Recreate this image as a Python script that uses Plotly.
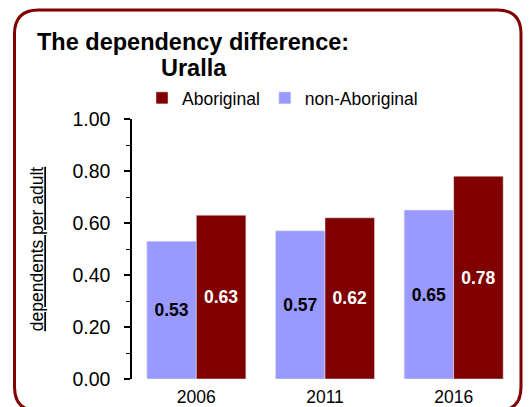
import plotly.graph_objects as go

years = ["2006", "2011", "2016"]
aboriginal = [0.63, 0.62, 0.78]
non_aboriginal = [0.53, 0.57, 0.65]
y_ticks = [0.0, 0.2, 0.4, 0.6, 0.8, 1.0]

FONT = "Liberation Sans, Arial, sans-serif"
RED = "#800000"
PURPLE = "#9999FF"

W, H = 529, 407
# plot area in pixels
L, R, T, B = 132, 518, 119, 379


def px(x):
    # pixel -> paper x
    return (x - L) / (R - L)


def py(y):
    # pixel -> paper y
    return (B - y) / (B - T)


fig = go.Figure()

fig.add_trace(go.Bar(
    x=years, y=non_aboriginal, name="non-Aboriginal",
    marker_color=PURPLE, legendrank=2,
    texttemplate="%{y:.2f}", textposition="inside", insidetextanchor="middle",
    textfont=dict(family=FONT, size=17.5, color="black", weight="bold"),
))
fig.add_trace(go.Bar(
    x=years, y=aboriginal, name="Aboriginal",
    marker_color=RED, legendrank=1,
    texttemplate="%{y:.2f}", textposition="inside", insidetextanchor="middle",
    textfont=dict(family=FONT, size=17.5, color="white", weight="bold"),
))

# rounded frame around the chart
x0, x1, y0, y1, r = 14.5, 521, 10, 411, 24
path = (
    f"M {px(x0 + r)} {py(y0)} L {px(x1 - r)} {py(y0)} "
    f"Q {px(x1)} {py(y0)} {px(x1)} {py(y0 + r)} "
    f"L {px(x1)} {py(y1 - r)} Q {px(x1)} {py(y1)} {px(x1 - r)} {py(y1)} "
    f"L {px(x0 + r)} {py(y1)} Q {px(x0)} {py(y1)} {px(x0)} {py(y1 - r)} "
    f"L {px(x0)} {py(y0 + r)} Q {px(x0)} {py(y0)} {px(x0 + r)} {py(y0)} Z"
)
fig.add_shape(type="path", path=path, xref="paper", yref="paper",
              line=dict(color=RED, width=3), layer="above")

fig.add_annotation(text="<b>The dependency difference:</b>", xref="paper", yref="paper",
                   x=px(35), y=py(42), xanchor="left", yanchor="middle", showarrow=False,
                   font=dict(family=FONT, size=23.5, color="black"))
fig.add_annotation(text="<b>Uralla</b>", xref="paper", yref="paper",
                   x=px(159), y=py(68), xanchor="left", yanchor="middle", showarrow=False,
                   font=dict(family=FONT, size=23.5, color="black"))

fig.update_layout(
    width=W, height=H,
    margin=dict(l=L, r=W - R, t=T, b=H - B),
    paper_bgcolor="white", plot_bgcolor="white",
    barmode="group", bargap=0.23, bargroupgap=0,
    font=dict(family=FONT, size=17.5, color="black"),
    showlegend=True,
    legend=dict(orientation="h", x=px(142), y=py(98), xanchor="left", yanchor="middle",
                font=dict(family=FONT, size=17.5), bgcolor="rgba(0,0,0,0)"),
    hovermode=False,
)
fig.update_xaxes(showline=False, ticks="", showgrid=False, automargin=False,
                 ticklabelstandoff=5, tickfont=dict(family=FONT, size=17.5))
fig.update_yaxes(range=[0, 1], tickvals=y_ticks, tickformat=".2f", automargin=False,
                 ticks="outside", ticklen=6, tickwidth=1.5, tickcolor="black",
                 showline=True, linecolor="black", linewidth=1.5,
                 showgrid=False, zeroline=False, ticklabelstandoff=10,
                 minor=dict(dtick=0.1, ticks="outside", ticklen=4, tickcolor="black", tickwidth=1),
                 tickfont=dict(family=FONT, size=19.5),
                 title=dict(text="<u>dependents per adult</u>", standoff=24,
                            font=dict(family=FONT, size=17.5)))

# drop the default 8px page margin so the figure fills the window exactly
fig.write_html("out.html", config={"displayModeBar": False},
               post_script="document.body.style.margin = '0';")
